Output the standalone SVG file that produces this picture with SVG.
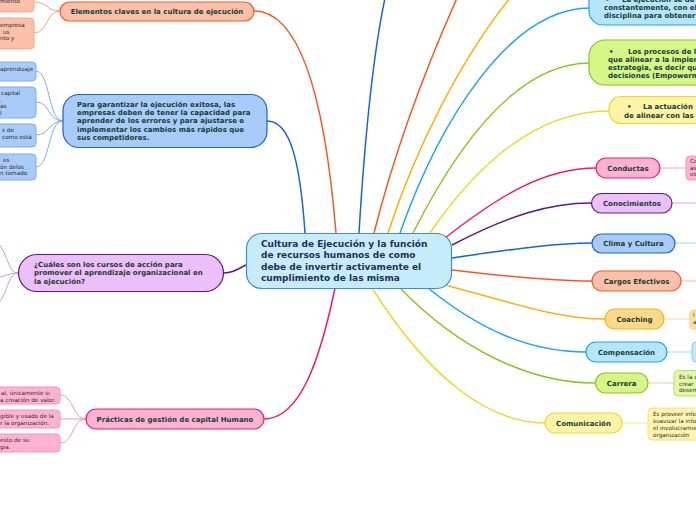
<svg xmlns="http://www.w3.org/2000/svg" width="696" height="520" viewBox="0 0 696 520">
<style>
text{font-family:"DejaVu Sans",Verdana,sans-serif;}
.t{font-size:7px;font-weight:bold;fill:#183c34;}
.tc{font-size:9px;font-weight:bold;fill:#1e2d5c;}
.tl{font-size:5.7px;fill:#2e2a2a;}
.c{fill:none;stroke-width:1.5;}
.cl{fill:none;stroke-width:1;}
.salmon{fill:#fac0aa;stroke:#f15a24;stroke-width:1.2;}
.blue{fill:#a9cbfa;stroke:#1565d8;stroke-width:1.2;}
.purple{fill:#ecbefa;stroke:#5e1a78;stroke-width:1.2;}
.pink{fill:#ffb3d2;stroke:#ea1a70;stroke-width:1.2;}
.amber{fill:#fed98a;stroke:#f9b10e;stroke-width:1.2;}
.lblue{fill:#b5e5fb;stroke:#1aa5ec;stroke-width:1.2;}
.green{fill:#d6f788;stroke:#8ec31e;stroke-width:1.2;}
.yellow{fill:#fdf4a6;stroke:#f2d52a;stroke-width:1.2;}
.lsalmon{fill:#fac0aa;stroke:#f8a58a;stroke-width:1;}
.lbluel{fill:#a9cbfa;stroke:#7eaaf0;stroke-width:1;}
.lpink{fill:#ffb3d2;stroke:#f58fb8;stroke-width:1;}
.lamber{fill:#fde0a0;stroke:#fbcb6a;stroke-width:1;}
.llblue{fill:#c0e9fb;stroke:#7fcdf3;stroke-width:1;}
.lgreen{fill:#e2f8a5;stroke:#b9dd6a;stroke-width:1;}
.lyellow{fill:#fdf4b0;stroke:#f5e27a;stroke-width:1;}
</style>
<g id="connectors">
  <path class="c" stroke="#1aa5ec" d="M400,233 C440,120 510,8 590,8"/>
  <path class="c" stroke="#8ec31e" d="M413,233 C460,140 520,63 590,63"/>
  <path class="c" stroke="#f2d52a" d="M430,233 C480,160 540,111 609,111"/>
  <path class="c" stroke="#ea1a70" d="M445,238 C500,195 545,168 596,168"/>
  <path class="c" stroke="#5e1a78" d="M452,245 C510,215 550,203 591,203"/>
  <path class="c" stroke="#1565d8" d="M452,258 C520,248 560,243 592,243"/>
  <path class="c" stroke="#f15a24" d="M452,270 C520,278 560,281 592,281"/>
  <path class="c" stroke="#f9b10e" d="M445,285 C520,305 560,319 605,319"/>
  <path class="c" stroke="#1aa5ec" d="M428,288 C480,330 530,352 586,352"/>
  <path class="c" stroke="#8ec31e" d="M400,288 C460,350 530,383 595,383"/>
  <path class="c" stroke="#f2d52a" d="M372,288 C430,380 490,423 545,423"/>
  <path class="c" stroke="#f15a24" d="M336,233 C325,100 300,11 254,11"/>
  <path class="c" stroke="#1565d8" d="M305,233 C300,160 290,121 267,121"/>
  <path class="c" stroke="#5e1a78" d="M246,265 C236,270 232,273 224,273"/>
  <path class="c" stroke="#ea1a70" d="M335,288 C320,360 300,419 264,419"/>
  <path class="c" stroke="#1565d8" d="M359,233 C364,150 372,60 385,-2"/>
  <path class="c" stroke="#f15a24" d="M374,233 C395,150 425,70 457,-2"/>
  <path class="c" stroke="#f9b10e" d="M388,233 C415,150 460,60 510,-2"/>
  <path class="cl" stroke="#f8a58a" d="M60,11 C46,11 48,2 34,2"/>
  <path class="cl" stroke="#f8a58a" d="M60,11 C46,11 48,33 34,33"/>
  <path class="cl" stroke="#7eaaf0" d="M63,121 C48,121 50,71 36,71"/>
  <path class="cl" stroke="#7eaaf0" d="M63,121 C48,121 50,102 36,102"/>
  <path class="cl" stroke="#7eaaf0" d="M63,121 C48,121 50,135 36,135"/>
  <path class="cl" stroke="#7eaaf0" d="M63,121 C48,121 50,167 36,167"/>
  <path class="cl" stroke="#c89ad6" d="M18,273 C6,273 8,245 -8,240"/>
  <path class="cl" stroke="#c89ad6" d="M18,273 C8,273 6,277 -8,278"/>
  <path class="cl" stroke="#c89ad6" d="M18,273 C6,273 8,303 -8,306"/>
  <path class="cl" stroke="#f58fb8" d="M86,419 C72,419 74,395 60,395"/>
  <path class="cl" stroke="#f58fb8" d="M86,419 L60,419"/>
  <path class="cl" stroke="#f58fb8" d="M86,419 C72,419 74,443 60,443"/>
  <path class="cl" stroke="#f8a2c8" d="M660,168 L686,168"/>
  <path class="cl" stroke="#d2a6e0" d="M672,203 L700,203"/>
  <path class="cl" stroke="#a8c8f6" d="M675,243 L700,243"/>
  <path class="cl" stroke="#f8b8a2" d="M681,281 L700,281"/>
  <path class="cl" stroke="#fbd98a" d="M664,319 L690,319"/>
  <path class="cl" stroke="#9fdaf6" d="M667,352 L692,352"/>
  <path class="cl" stroke="#c4e38a" d="M648,383 L674,383"/>
  <path class="cl" stroke="#f5e585" d="M622,423 L648,423"/>
</g>
<g id="central">
  <rect x="246.5" y="233.5" width="205" height="55" rx="15" fill="#c6ecfb" stroke="#3d8fd0" stroke-width="1.2"/>
  <text class="tc"><tspan x="261" y="246.6">Cultura de Ejecución y la función</tspan><tspan x="261" y="258.1">de recursos humanos de como</tspan><tspan x="261" y="269.6">debe de invertir activamente el</tspan><tspan x="261" y="281.1">cumplimiento de las misma</tspan></text>
</g>
<g id="elementos">
  <rect class="salmon" x="60" y="2" width="194" height="19" rx="9.5"/>
  <text class="t" x="157" y="13.5" text-anchor="middle">Elementos claves en la cultura de ejecución</text>
</g>
<g id="elementos-1">
  <rect class="lsalmon" x="-20" y="-12" width="54" height="24" rx="4"/>
  <text class="tl" x="0" y="2.5">miento</text>
</g>
<g id="elementos-2">
  <rect class="lsalmon" x="-20" y="18" width="54" height="31" rx="4"/>
  <text class="tl"><tspan x="0" y="27">empresa</tspan><tspan x="3" y="33.5">us</tspan><tspan x="0" y="40">nto y</tspan></text>
</g>
<g id="garantizar">
  <rect class="blue" x="63" y="94.5" width="204" height="53" rx="16"/>
  <text class="t"><tspan x="77" y="106.8">Para garantizar la ejecución exitosa, las</tspan><tspan x="77" y="115.1">empresas deben de tener la capacidad para</tspan><tspan x="77" y="123.4">aprender de los errores y para ajustarse e</tspan><tspan x="77" y="131.7">implementar los cambios más rápidos que</tspan><tspan x="77" y="140">sus competidores.</tspan></text>
</g>
<g id="garantizar-1">
  <rect class="lbluel" x="-20" y="62" width="56" height="19" rx="4"/>
  <text class="tl" x="0" y="71">aprendizaje</text>
</g>
<g id="garantizar-2">
  <rect class="lbluel" x="-20" y="87" width="56" height="31" rx="4"/>
  <text class="tl"><tspan x="1" y="95">capital</tspan><tspan x="0" y="101.5">.</tspan><tspan x="0" y="108">as</tspan><tspan x="0" y="114.5">l</tspan></text>
</g>
<g id="garantizar-3">
  <rect class="lbluel" x="-20" y="124" width="56" height="23" rx="4"/>
  <text class="tl"><tspan x="2" y="132">s de</tspan><tspan x="2" y="138.5">como está</tspan></text>
</g>
<g id="garantizar-4">
  <rect class="lbluel" x="-20" y="154" width="56" height="26" rx="4"/>
  <text class="tl"><tspan x="3" y="162">es</tspan><tspan x="0" y="168.5">ón delos</tspan><tspan x="0" y="175">n tomado</tspan></text>
</g>
<g id="cuales">
  <rect class="purple" x="18.5" y="254.5" width="205" height="37" rx="18.5"/>
  <text class="t"><tspan x="34" y="267">¿Cuáles son los cursos de acción para</tspan><tspan x="34" y="275.3">promover el aprendizaje organizacional en</tspan><tspan x="34" y="283.6">la ejecución?</tspan></text>
</g>
<g id="practicas">
  <rect class="pink" x="86" y="409" width="178" height="20" rx="10"/>
  <text class="t" x="175" y="422" text-anchor="middle">Prácticas de gestión de capital Humano</text>
</g>
<g id="practicas-1">
  <rect class="lpink" x="-20" y="387" width="80" height="17" rx="4"/>
  <text class="tl"><tspan x="1" y="394.5">al, únicamente si</tspan><tspan x="0" y="401.5">a creación de valor.</tspan></text>
</g>
<g id="practicas-2">
  <rect class="lpink" x="-20" y="410" width="80" height="18" rx="4"/>
  <text class="tl"><tspan x="0" y="417.5">gible y usado de la</tspan><tspan x="0" y="424.5">r la organización.</tspan></text>
</g>
<g id="practicas-3">
  <rect class="lpink" x="-20" y="434" width="80" height="18" rx="4"/>
  <text class="tl"><tspan x="0" y="441.5">esto de su</tspan><tspan x="0" y="448.5">gia.</tspan></text>
</g>
<g id="ejecucion">
  <rect class="lblue" x="589" y="-12" width="130" height="37" rx="14"/>
  <text class="t"><tspan x="605" y="1.8">•</tspan><tspan x="622" y="1.8">La ejecución se de</tspan><tspan x="604" y="10">constantemente, con el</tspan><tspan x="604" y="18.3">disciplina para obtener</tspan></text>
</g>
<g id="procesos">
  <rect class="green" x="589" y="40" width="130" height="45" rx="16"/>
  <text class="t"><tspan x="609" y="53.5">•</tspan><tspan x="628" y="53.5">Los procesos de l</tspan><tspan x="608" y="61.8">que alinear a la implem</tspan><tspan x="608" y="70.1">estrategia, es decir qu</tspan><tspan x="608" y="78.4">decisiones (Empowerm</tspan></text>
</g>
<g id="actuacion">
  <rect class="yellow" x="609" y="96.5" width="110" height="27" rx="12"/>
  <text class="t"><tspan x="627" y="109.4">•</tspan><tspan x="643" y="109.4">La actuación</tspan><tspan x="624" y="117.7">de alinear con las</tspan></text>
</g>
<g id="conductas">
  <rect class="pink" x="596" y="158" width="64" height="20" rx="10"/>
  <text class="t" x="628" y="171" text-anchor="middle">Conductas</text>
</g>
<g id="conductas-1">
  <rect class="lpink" x="686" y="156" width="30" height="24" rx="4"/>
  <text class="tl"><tspan x="690" y="163">Co</tspan><tspan x="690" y="169.5">as</tspan><tspan x="690" y="176">es</tspan></text>
</g>
<g id="conocimientos">
  <rect class="purple" x="591.5" y="193.5" width="80.5" height="19.5" rx="9.75"/>
  <text class="t" x="632" y="206" text-anchor="middle">Conocimientos</text>
</g>
<g id="clima">
  <rect class="blue" x="592" y="234" width="83" height="19" rx="9.5"/>
  <text class="t" x="633.5" y="246.3" text-anchor="middle">Clima y Cultura</text>
</g>
<g id="cargos">
  <rect class="salmon" x="592" y="271" width="89" height="20" rx="10"/>
  <text class="t" x="636.5" y="283.8" text-anchor="middle">Cargos Efectivos</text>
</g>
<g id="coaching">
  <rect class="amber" x="605" y="309" width="59" height="20" rx="10"/>
  <text class="t" x="634.5" y="321.8" text-anchor="middle">Coaching</text>
</g>
<g id="coaching-1">
  <rect class="lamber" x="690" y="310" width="30" height="19" rx="4"/>
  <text class="tl"><tspan x="693" y="317">I</tspan><tspan x="693" y="324">a</tspan></text>
</g>
<g id="compensacion">
  <rect class="lblue" x="586" y="342" width="81" height="20" rx="10"/>
  <text class="t" x="626.5" y="354.8" text-anchor="middle">Compensación</text>
</g>
<g id="compensacion-1">
  <rect class="llblue" x="692" y="342" width="30" height="20" rx="4"/>
</g>
<g id="carrera">
  <rect class="green" x="595.5" y="373" width="52.5" height="20" rx="10"/>
  <text class="t" x="621.7" y="385.8" text-anchor="middle">Carrera</text>
</g>
<g id="carrera-1">
  <rect class="lgreen" x="674" y="370.5" width="40" height="25.5" rx="4"/>
  <text class="tl"><tspan x="679" y="379">Es la c</tspan><tspan x="679" y="385.5">crear</tspan><tspan x="679" y="392">desem</tspan></text>
</g>
<g id="comunicacion">
  <rect class="yellow" x="545" y="413" width="77" height="20" rx="10"/>
  <text class="t" x="583.5" y="425.8" text-anchor="middle">Comunicación</text>
</g>
<g id="comunicacion-1">
  <rect class="lyellow" x="648" y="408" width="70" height="32" rx="4"/>
  <text class="tl"><tspan x="653" y="416">Es proveer info</tspan><tspan x="653" y="423">suavizar la info</tspan><tspan x="653" y="430">el involucramien</tspan><tspan x="653" y="437">organización</tspan></text>
</g>
</svg>
